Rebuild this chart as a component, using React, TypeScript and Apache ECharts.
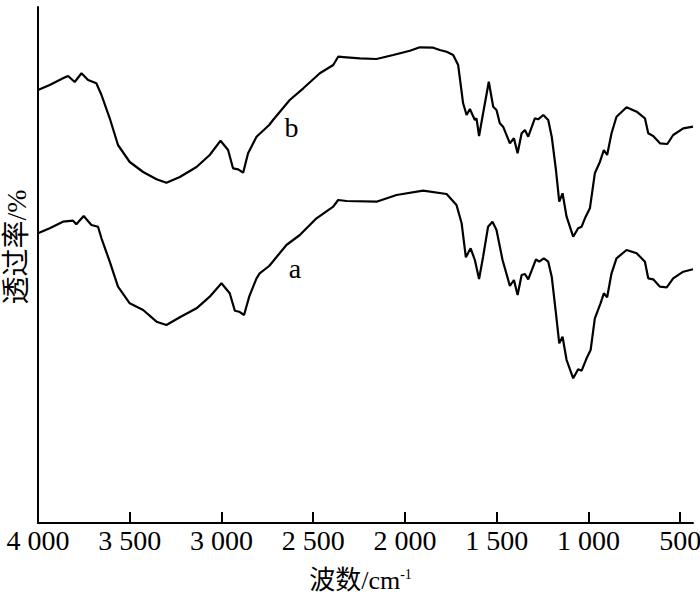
import React, { useEffect, useRef } from "react";
import * as echarts from "echarts";

// Wavenumbers (cm^-1) and transmittance (arbitrary units)
const bWave = [4000, 3936, 3864, 3836, 3800, 3763, 3727, 3682, 3654, 3609, 3564, 3500, 3427, 3354, 3300, 3227, 3136, 3064, 3005, 2964, 2937, 2909, 2882, 2855, 2809, 2740, 2719, 2628, 2554, 2464, 2391, 2364, 2318, 2246, 2155, 2064, 1973, 1919, 1846, 1810, 1773, 1737, 1710, 1683, 1664, 1646, 1619, 1610, 1596, 1574, 1543, 1519, 1501, 1483, 1465, 1428, 1406, 1386, 1364, 1346, 1328, 1292, 1274, 1246, 1219, 1200, 1177, 1159, 1141, 1119, 1083, 1056, 1037, 1019, 992, 965, 937, 916, 898, 874, 847, 792, 737, 692, 674, 647, 610, 570, 538, 483, 430];
const bVal = [433, 438, 444.7, 447, 441, 449.7, 443, 439.7, 428, 404.7, 378, 361, 351, 343.7, 340.3, 346, 356, 368, 382.3, 373, 354.7, 353.7, 350.3, 369.7, 386.3, 398, 403, 423, 434.7, 449.7, 458, 466.3, 465.7, 464.7, 464, 468, 472.3, 475.7, 475.3, 473, 471.3, 468, 458, 419.7, 408, 414, 403, 404.7, 387, 409.7, 441.3, 416.3, 413, 399.7, 396.3, 379.7, 384.7, 369.7, 389.7, 393, 386.3, 404.7, 403.7, 408, 403, 386.3, 353, 321.3, 329.7, 306.3, 286.3, 294.7, 296.3, 304.7, 314.7, 349.7, 361.3, 373, 368, 389.7, 406.3, 415.7, 411.3, 404.7, 389.7, 387, 379.7, 379, 388, 394.7, 396.3];

const aWave = [4000, 3936, 3864, 3809, 3791, 3751, 3709, 3673, 3654, 3609, 3564, 3500, 3427, 3354, 3300, 3227, 3136, 3064, 3000, 2955, 2927, 2904, 2877, 2849, 2809, 2792, 2740, 2646, 2573, 2482, 2391, 2364, 2318, 2155, 2046, 1901, 1773, 1719, 1691, 1668, 1642, 1619, 1596, 1574, 1547, 1523, 1501, 1468, 1428, 1406, 1386, 1364, 1346, 1328, 1286, 1268, 1243, 1219, 1200, 1177, 1159, 1141, 1119, 1083, 1056, 1037, 1010, 988, 965, 934, 916, 898, 874, 847, 792, 737, 692, 674, 647, 610, 573, 538, 483, 430];
const aVal = [289.7, 294.7, 301.3, 302.3, 298.7, 307, 298, 296.3, 284.7, 261.3, 236.3, 219.7, 213, 201.3, 198, 205.7, 214.7, 226.3, 239.7, 229.7, 212.3, 211.3, 208, 226.3, 244.7, 249.7, 257, 278, 288, 304.7, 316.3, 323, 322, 321.3, 328, 332.3, 329, 318, 299.7, 265.7, 274.7, 263, 244, 266.3, 296.3, 301.3, 293, 263, 237, 243, 228, 248, 249, 243.7, 263.7, 261.3, 264.7, 261.3, 246.3, 209.7, 179.7, 186.3, 163, 144.7, 153.7, 152.3, 164.7, 173, 204.7, 219.7, 229.7, 225.7, 249.7, 264.7, 273, 269.7, 261.3, 244.7, 243.7, 236.3, 235.7, 244.7, 251.3, 253.7];

const xTicks = [4000, 3500, 3000, 2500, 2000, 1500, 1000, 500];
const seriesNames = ["a", "b"];
const labelPos = { a: [2600, 255], b: [2618, 396] };

const FONT = "'Liberation Serif', 'Times New Roman', 'Noto Sans CJK SC', serif";

function fmt(v: number) {
  if (v >= 1000) {
    const th = Math.floor(v / 1000);
    const rest = String(v % 1000).padStart(3, "0");
    return th + " " + rest;
  }
  return String(v);
}

export default function App() {
  const ref = useRef<HTMLDivElement>(null);
  useEffect(() => {
    if (!ref.current) return;
    const chart = echarts.init(ref.current, null, { renderer: "svg" });
    const mk = (name: string, xs: number[], ys: number[]) => ({
      name,
      type: "line",
      data: xs.map((x, i) => [x, ys[i]]),
      showSymbol: false,
      symbol: "none",
      lineStyle: { color: "#000", width: 2.2 },
      markPoint: {
        symbol: "circle",
        symbolSize: 0,
        data: [{ coord: (labelPos as any)[name] }],
        label: {
          show: true,
          formatter: name,
          color: "#000",
          fontFamily: FONT,
          fontSize: 28,
          position: "inside",
        },
      },
    });
    chart.setOption({
      animation: false,
      backgroundColor: "#fff",
      grid: { left: 38, right: 7, top: 7, bottom: 78, containLabel: false, outerBoundsMode: "none" },
      xAxis: {
        type: "value",
        inverse: true,
        min: 430,
        max: 4000,
        name: "波数/cm{sup|-1}",
        nameLocation: "middle",
        nameGap: 44,
        nameTextStyle: {
          color: "#000",
          fontFamily: FONT,
          fontSize: 26,
          padding: [0, 10, 0, 0],
          rich: { sup: { fontSize: 14, verticalAlign: "top", fontFamily: FONT, color: "#000", padding: [0, 0, 10, 0] } },
        },
        axisLine: { show: true, lineStyle: { color: "#000", width: 2 } },
        axisTick: { show: true, inside: true, length: 11, customValues: xTicks, lineStyle: { color: "#000", width: 2 } },
        axisLabel: {
          customValues: xTicks,
          formatter: (v: number) => fmt(v),
          color: "#000",
          fontFamily: FONT,
          fontSize: 28,
          margin: 3,
          hideOverlap: false,
        },
        splitLine: { show: false },
      },
      yAxis: {
        type: "value",
        min: 0,
        max: 516,
        name: "透过率/%",
        nameLocation: "middle",
        nameRotate: 90,
        nameGap: 8,
        nameTextStyle: { color: "#000", fontFamily: FONT, fontSize: 28, padding: [0, 0, 0, 36] },
        axisLine: { show: true, lineStyle: { color: "#000", width: 2 } },
        axisTick: { show: false },
        axisLabel: { show: false },
        splitLine: { show: false },
      },
      series: [mk(seriesNames[1], bWave, bVal), mk(seriesNames[0], aWave, aVal)],
    });
    return () => chart.dispose();
  }, []);
  return <div ref={ref} style={{ position: "fixed", left: 0, top: 0, width: 700, height: 601 }} />;
}
